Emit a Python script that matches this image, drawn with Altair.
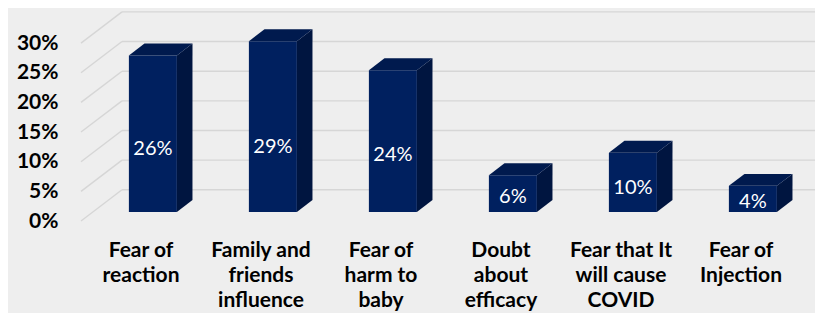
import altair as alt
import pandas as pd

# ---- data ----
categories = ["Fear of\nreaction", "Family and\nfriends\ninfluence", "Fear of\nharm to\nbaby",
              "Doubt\nabout\nefficacy", "Fear that It\nwill cause\nCOVID", "Fear of\nInjection"]
values = [26.4, 28.8, 23.9, 6.2, 10.0, 4.4]
tick_values = [0, 5, 10, 15, 20, 25, 30]

# ---- oblique 3D projection parameters (data units) ----
DX = 41 / 120      # depth along x, in category-slot units
DY = 5.26          # depth along y, in percent units
F1, F2 = 0.29, 0.67  # front / back depth fraction of the bars
HW = 0.2           # half bar width (slot units)
XMAX = 734 / 120
YMAX = 35.24

FRONT = "#00205F"
TOP = "#001A4E"
SIDE = "#001540"
GRID = "#D6D6D6"

rows, side_rows, top_rows = [], [], []
for i, (c, v) in enumerate(zip(categories, values)):
    cx = i + 0.5
    x0 = cx + F1 * DX - HW
    x1 = cx + F1 * DX + HW
    sh = (F2 - F1) * DX
    shy = (F2 - F1) * DY
    rows.append(dict(cat=c, value=v, cx=cx, fx=cx + F1 * DX, x0=x0, x1=x1,
                     yb=F1 * DY, yt=F1 * DY + v,
                     ly=F1 * DY + min(v * 0.4, 11), zero=0))
    side_rows += [dict(cat=c, x=x1, ylo=F1 * DY, yhi=F1 * DY + v),
                  dict(cat=c, x=x1 + sh, ylo=F1 * DY + shy, yhi=F1 * DY + v + shy)]
    top_rows += [dict(cat=c, y=F1 * DY + v, xa=x0, xb=x1),
                 dict(cat=c, y=F1 * DY + v + shy, xa=x0 + sh, xb=x1 + sh)]

bars = pd.DataFrame(rows)
side = pd.DataFrame(side_rows)
top = pd.DataFrame(top_rows)
grid = pd.DataFrame(dict(v=tick_values, vb=[t + DY for t in tick_values],
                         x0=[0] * len(tick_values), xw=[DX] * len(tick_values),
                         xe=[XMAX + 0.2] * len(tick_values)))

xs = alt.Scale(domain=[0, XMAX], nice=False, zero=False)
ys = alt.Scale(domain=[0, YMAX], nice=False, zero=False)
yax = alt.Axis(values=tick_values, labelExpr="datum.value + '%'", labelFont="Lato",
               labelFontWeight="bold", labelFontSize=21, labelColor="#000000",
               labelPadding=23, ticks=False, domain=False, grid=False, title=None)

back = alt.Chart(grid).mark_rule(color=GRID, strokeWidth=1.4).encode(
    x=alt.X("xw:Q", scale=xs, axis=None), x2="xe:Q",
    y=alt.Y("vb:Q", scale=ys, axis=yax))
diag = alt.Chart(grid).mark_rule(color=GRID, strokeWidth=1.4).encode(
    x=alt.X("x0:Q", scale=xs, axis=None), x2="xw:Q",
    y=alt.Y("v:Q", scale=ys, axis=yax), y2="vb:Q")

front = alt.Chart(bars).mark_rect(color=FRONT).encode(
    x=alt.X("x0:Q", scale=xs, axis=None), x2="x1:Q",
    y=alt.Y("yb:Q", scale=ys, axis=yax), y2="yt:Q")
sidef = alt.Chart(side).mark_area(color=SIDE, interpolate="linear").encode(
    x=alt.X("x:Q", scale=xs, axis=None),
    y=alt.Y("yhi:Q", scale=ys, axis=yax, stack=False), y2="ylo:Q",
    detail="cat:N")
topf = alt.Chart(top).mark_area(color=TOP, orient="horizontal", interpolate="linear").encode(
    y=alt.Y("y:Q", scale=ys, axis=yax),
    x=alt.X("xa:Q", scale=xs, axis=None, stack=False), x2="xb:Q",
    detail="cat:N")

vlabels = alt.Chart(bars).transform_calculate(
    lab="format(datum.value, '.0f') + '%'"
).mark_text(color="white", font="Lato", fontSize=20, baseline="middle", align="center").encode(
    x=alt.X("fx:Q", scale=xs, axis=None),
    y=alt.Y("ly:Q", scale=ys, axis=yax),
    text="lab:N")

xlabels = alt.Chart(bars).mark_text(
    font="Lato", fontWeight="bold", fontSize=21, color="#000000", align="center",
    baseline="alphabetic", dy=36, lineBreak="\n", lineHeight=25).encode(
    x=alt.X("cx:Q", scale=xs, axis=None),
    y=alt.Y("zero:Q", scale=ys, axis=yax),
    text="cat:N")

chart = alt.layer(back, diag, front, sidef, topf, vlabels, xlabels).properties(
    width=734, height=209,
    autosize=alt.AutoSizeParams(type="none"),
    padding={"left": 73, "top": 4, "right": 0, "bottom": 92},
    background="#EEEEEE",
).configure_view(strokeWidth=0)

chart.save("out.html", embed_options={"renderer": "svg", "actions": False})
